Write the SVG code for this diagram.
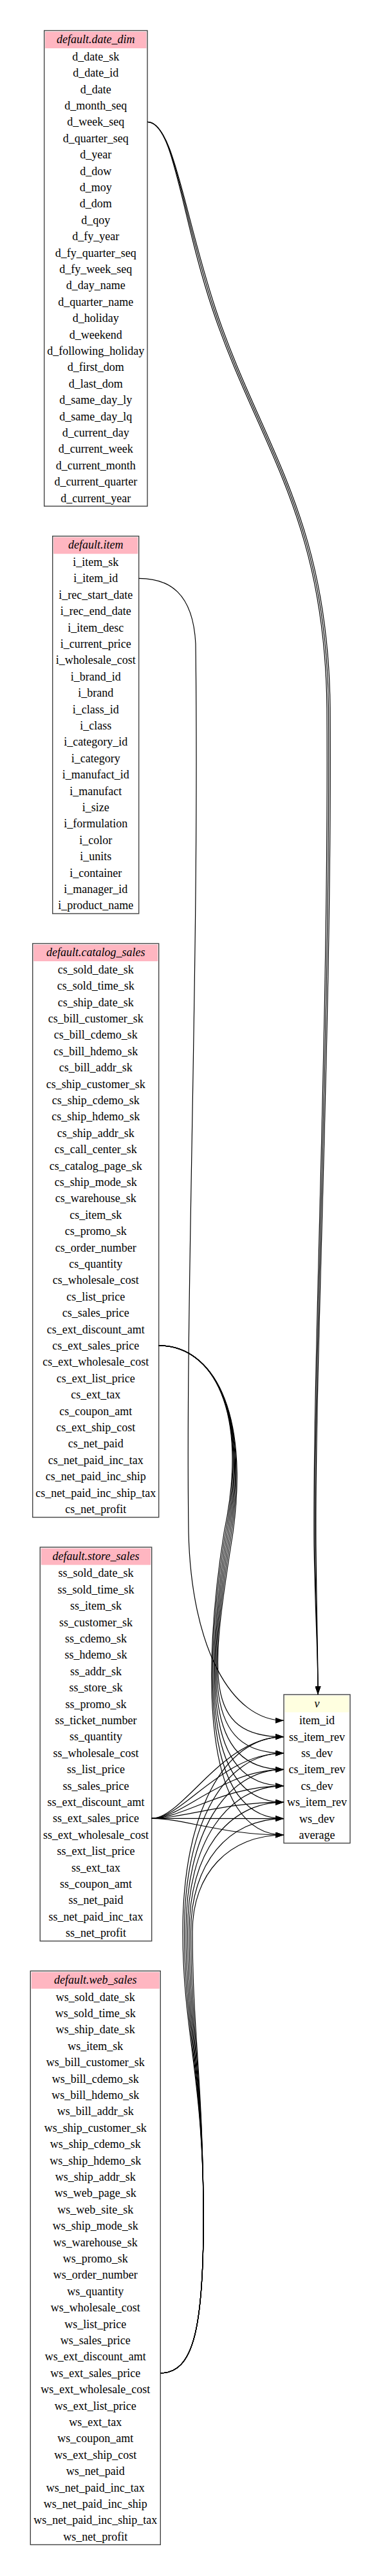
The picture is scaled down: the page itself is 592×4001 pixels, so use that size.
<svg xmlns="http://www.w3.org/2000/svg" width="592" height="4001" viewBox="0 0 592 4001">
<style>
.bg{fill:#ffffff}
.box{fill:#ffffff;stroke:#444444;stroke-width:1.4}
.hd{fill:#ffb6c1}
.hdv{fill:#ffffe0}
.t{font-family:"Liberation Serif","Times New Roman",serif;font-size:18px;text-anchor:middle;fill:#000000}
.h{font-style:italic}
.e{fill:none;stroke:#000000;stroke-width:1.2}
</style>
<defs>
<marker id="a" viewBox="0 0 13 9" refX="13" refY="4.5" markerWidth="13" markerHeight="9" markerUnits="userSpaceOnUse" orient="auto"><path d="M0,0L13,4.5L0,9z" fill="#000000"/></marker>
</defs>
<rect class="bg" x="0" y="0" width="592" height="4001"/>

<g id="date_dim">
<rect class="box" x="68.7" y="47.5" width="160.3" height="738.7"/>
<rect class="hd" x="70.2" y="49.2" width="157.3" height="25.8"/>
<text class="t h" x="148.85" y="67.3">default.date_dim</text>
<text class="t" x="148.85" y="93.7">d_date_sk</text>
<text class="t" x="148.85" y="119.1">d_date_id</text>
<text class="t" x="148.85" y="144.5">d_date</text>
<text class="t" x="148.85" y="169.9">d_month_seq</text>
<text class="t" x="148.85" y="195.3">d_week_seq</text>
<text class="t" x="148.85" y="220.7">d_quarter_seq</text>
<text class="t" x="148.85" y="246.1">d_year</text>
<text class="t" x="148.85" y="271.5">d_dow</text>
<text class="t" x="148.85" y="296.9">d_moy</text>
<text class="t" x="148.85" y="322.3">d_dom</text>
<text class="t" x="148.85" y="347.7">d_qoy</text>
<text class="t" x="148.85" y="373.1">d_fy_year</text>
<text class="t" x="148.85" y="398.5">d_fy_quarter_seq</text>
<text class="t" x="148.85" y="423.9">d_fy_week_seq</text>
<text class="t" x="148.85" y="449.3">d_day_name</text>
<text class="t" x="148.85" y="474.7">d_quarter_name</text>
<text class="t" x="148.85" y="500.1">d_holiday</text>
<text class="t" x="148.85" y="525.5">d_weekend</text>
<text class="t" x="148.85" y="550.9">d_following_holiday</text>
<text class="t" x="148.85" y="576.3">d_first_dom</text>
<text class="t" x="148.85" y="601.7">d_last_dom</text>
<text class="t" x="148.85" y="627.1">d_same_day_ly</text>
<text class="t" x="148.85" y="652.5">d_same_day_lq</text>
<text class="t" x="148.85" y="677.9">d_current_day</text>
<text class="t" x="148.85" y="703.3">d_current_week</text>
<text class="t" x="148.85" y="728.7">d_current_month</text>
<text class="t" x="148.85" y="754.1">d_current_quarter</text>
<text class="t" x="148.85" y="779.5">d_current_year</text>
</g>

<g id="item">
<rect class="box" x="81.7" y="832.7" width="134" height="586.3"/>
<rect class="hd" x="83.2" y="834.4" width="131" height="25.8"/>
<text class="t h" x="148.7" y="852.45">default.item</text>
<text class="t" x="148.7" y="878.9">i_item_sk</text>
<text class="t" x="148.7" y="904.3">i_item_id</text>
<text class="t" x="148.7" y="929.7">i_rec_start_date</text>
<text class="t" x="148.7" y="955.1">i_rec_end_date</text>
<text class="t" x="148.7" y="980.5">i_item_desc</text>
<text class="t" x="148.7" y="1005.9">i_current_price</text>
<text class="t" x="148.7" y="1031.3">i_wholesale_cost</text>
<text class="t" x="148.7" y="1056.7">i_brand_id</text>
<text class="t" x="148.7" y="1082.1">i_brand</text>
<text class="t" x="148.7" y="1107.5">i_class_id</text>
<text class="t" x="148.7" y="1132.9">i_class</text>
<text class="t" x="148.7" y="1158.3">i_category_id</text>
<text class="t" x="148.7" y="1183.7">i_category</text>
<text class="t" x="148.7" y="1209.1">i_manufact_id</text>
<text class="t" x="148.7" y="1234.5">i_manufact</text>
<text class="t" x="148.7" y="1259.9">i_size</text>
<text class="t" x="148.7" y="1285.3">i_formulation</text>
<text class="t" x="148.7" y="1310.7">i_color</text>
<text class="t" x="148.7" y="1336.1">i_units</text>
<text class="t" x="148.7" y="1361.5">i_container</text>
<text class="t" x="148.7" y="1386.9">i_manager_id</text>
<text class="t" x="148.7" y="1412.3">i_product_name</text>
</g>

<g id="catalog_sales">
<rect class="box" x="50.7" y="1465.5" width="196" height="891.1"/>
<rect class="hd" x="52.2" y="1467.2" width="193" height="25.8"/>
<text class="t h" x="148.7" y="1485.25">default.catalog_sales</text>
<text class="t" x="148.7" y="1511.7">cs_sold_date_sk</text>
<text class="t" x="148.7" y="1537.1">cs_sold_time_sk</text>
<text class="t" x="148.7" y="1562.5">cs_ship_date_sk</text>
<text class="t" x="148.7" y="1587.9">cs_bill_customer_sk</text>
<text class="t" x="148.7" y="1613.3">cs_bill_cdemo_sk</text>
<text class="t" x="148.7" y="1638.7">cs_bill_hdemo_sk</text>
<text class="t" x="148.7" y="1664.1">cs_bill_addr_sk</text>
<text class="t" x="148.7" y="1689.5">cs_ship_customer_sk</text>
<text class="t" x="148.7" y="1714.9">cs_ship_cdemo_sk</text>
<text class="t" x="148.7" y="1740.3">cs_ship_hdemo_sk</text>
<text class="t" x="148.7" y="1765.7">cs_ship_addr_sk</text>
<text class="t" x="148.7" y="1791.1">cs_call_center_sk</text>
<text class="t" x="148.7" y="1816.5">cs_catalog_page_sk</text>
<text class="t" x="148.7" y="1841.9">cs_ship_mode_sk</text>
<text class="t" x="148.7" y="1867.3">cs_warehouse_sk</text>
<text class="t" x="148.7" y="1892.7">cs_item_sk</text>
<text class="t" x="148.7" y="1918.1">cs_promo_sk</text>
<text class="t" x="148.7" y="1943.5">cs_order_number</text>
<text class="t" x="148.7" y="1968.9">cs_quantity</text>
<text class="t" x="148.7" y="1994.3">cs_wholesale_cost</text>
<text class="t" x="148.7" y="2019.7">cs_list_price</text>
<text class="t" x="148.7" y="2045.1">cs_sales_price</text>
<text class="t" x="148.7" y="2070.5">cs_ext_discount_amt</text>
<text class="t" x="148.7" y="2095.9">cs_ext_sales_price</text>
<text class="t" x="148.7" y="2121.3">cs_ext_wholesale_cost</text>
<text class="t" x="148.7" y="2146.7">cs_ext_list_price</text>
<text class="t" x="148.7" y="2172.1">cs_ext_tax</text>
<text class="t" x="148.7" y="2197.5">cs_coupon_amt</text>
<text class="t" x="148.7" y="2222.9">cs_ext_ship_cost</text>
<text class="t" x="148.7" y="2248.3">cs_net_paid</text>
<text class="t" x="148.7" y="2273.7">cs_net_paid_inc_tax</text>
<text class="t" x="148.7" y="2299.1">cs_net_paid_inc_ship</text>
<text class="t" x="148.7" y="2324.5">cs_net_paid_inc_ship_tax</text>
<text class="t" x="148.7" y="2349.9">cs_net_profit</text>
</g>

<g id="store_sales">
<rect class="box" x="62.3" y="2403.1" width="173.4" height="611.7"/>
<rect class="hd" x="63.8" y="2404.8" width="170.4" height="25.8"/>
<text class="t h" x="149" y="2422.85">default.store_sales</text>
<text class="t" x="149" y="2449.3">ss_sold_date_sk</text>
<text class="t" x="149" y="2474.7">ss_sold_time_sk</text>
<text class="t" x="149" y="2500.1">ss_item_sk</text>
<text class="t" x="149" y="2525.5">ss_customer_sk</text>
<text class="t" x="149" y="2550.9">ss_cdemo_sk</text>
<text class="t" x="149" y="2576.3">ss_hdemo_sk</text>
<text class="t" x="149" y="2601.7">ss_addr_sk</text>
<text class="t" x="149" y="2627.1">ss_store_sk</text>
<text class="t" x="149" y="2652.5">ss_promo_sk</text>
<text class="t" x="149" y="2677.9">ss_ticket_number</text>
<text class="t" x="149" y="2703.3">ss_quantity</text>
<text class="t" x="149" y="2728.7">ss_wholesale_cost</text>
<text class="t" x="149" y="2754.1">ss_list_price</text>
<text class="t" x="149" y="2779.5">ss_sales_price</text>
<text class="t" x="149" y="2804.9">ss_ext_discount_amt</text>
<text class="t" x="149" y="2830.3">ss_ext_sales_price</text>
<text class="t" x="149" y="2855.7">ss_ext_wholesale_cost</text>
<text class="t" x="149" y="2881.1">ss_ext_list_price</text>
<text class="t" x="149" y="2906.5">ss_ext_tax</text>
<text class="t" x="149" y="2931.9">ss_coupon_amt</text>
<text class="t" x="149" y="2957.3">ss_net_paid</text>
<text class="t" x="149" y="2982.7">ss_net_paid_inc_tax</text>
<text class="t" x="149" y="3008.1">ss_net_profit</text>
</g>

<g id="web_sales">
<rect class="box" x="47.3" y="3061.3" width="202" height="891.1"/>
<rect class="hd" x="48.8" y="3063" width="199" height="25.8"/>
<text class="t h" x="148.3" y="3081.05">default.web_sales</text>
<text class="t" x="148.3" y="3107.5">ws_sold_date_sk</text>
<text class="t" x="148.3" y="3132.9">ws_sold_time_sk</text>
<text class="t" x="148.3" y="3158.3">ws_ship_date_sk</text>
<text class="t" x="148.3" y="3183.7">ws_item_sk</text>
<text class="t" x="148.3" y="3209.1">ws_bill_customer_sk</text>
<text class="t" x="148.3" y="3234.5">ws_bill_cdemo_sk</text>
<text class="t" x="148.3" y="3259.9">ws_bill_hdemo_sk</text>
<text class="t" x="148.3" y="3285.3">ws_bill_addr_sk</text>
<text class="t" x="148.3" y="3310.7">ws_ship_customer_sk</text>
<text class="t" x="148.3" y="3336.1">ws_ship_cdemo_sk</text>
<text class="t" x="148.3" y="3361.5">ws_ship_hdemo_sk</text>
<text class="t" x="148.3" y="3386.9">ws_ship_addr_sk</text>
<text class="t" x="148.3" y="3412.3">ws_web_page_sk</text>
<text class="t" x="148.3" y="3437.7">ws_web_site_sk</text>
<text class="t" x="148.3" y="3463.1">ws_ship_mode_sk</text>
<text class="t" x="148.3" y="3488.5">ws_warehouse_sk</text>
<text class="t" x="148.3" y="3513.9">ws_promo_sk</text>
<text class="t" x="148.3" y="3539.3">ws_order_number</text>
<text class="t" x="148.3" y="3564.7">ws_quantity</text>
<text class="t" x="148.3" y="3590.1">ws_wholesale_cost</text>
<text class="t" x="148.3" y="3615.5">ws_list_price</text>
<text class="t" x="148.3" y="3640.9">ws_sales_price</text>
<text class="t" x="148.3" y="3666.3">ws_ext_discount_amt</text>
<text class="t" x="148.3" y="3691.7">ws_ext_sales_price</text>
<text class="t" x="148.3" y="3717.1">ws_ext_wholesale_cost</text>
<text class="t" x="148.3" y="3742.5">ws_ext_list_price</text>
<text class="t" x="148.3" y="3767.9">ws_ext_tax</text>
<text class="t" x="148.3" y="3793.3">ws_coupon_amt</text>
<text class="t" x="148.3" y="3818.7">ws_ext_ship_cost</text>
<text class="t" x="148.3" y="3844.1">ws_net_paid</text>
<text class="t" x="148.3" y="3869.5">ws_net_paid_inc_tax</text>
<text class="t" x="148.3" y="3894.9">ws_net_paid_inc_ship</text>
<text class="t" x="148.3" y="3920.3">ws_net_paid_inc_ship_tax</text>
<text class="t" x="148.3" y="3945.7">ws_net_profit</text>
</g>

<g id="v">
<rect class="box" x="441" y="2632" width="103" height="230.7"/>
<rect class="hdv" x="442.5" y="2633.7" width="100" height="25.8"/>
<text class="t h" x="492.5" y="2651.75">v</text>
<text class="t" x="492.5" y="2678.2">item_id</text>
<text class="t" x="492.5" y="2703.6">ss_item_rev</text>
<text class="t" x="492.5" y="2729">ss_dev</text>
<text class="t" x="492.5" y="2754.4">cs_item_rev</text>
<text class="t" x="492.5" y="2779.8">cs_dev</text>
<text class="t" x="492.5" y="2805.2">ws_item_rev</text>
<text class="t" x="492.5" y="2830.6">ws_dev</text>
<text class="t" x="492.5" y="2856">average</text>
</g>

<g id="connectors">
<path class="e" marker-end="url(#a)" d="M229,189.3C270,189.3 280,330 330,480C400,690 505,800 508,1100C511,1600 486,2100 488,2400C490,2520 494,2560 494,2632"/>
<path class="e" marker-end="url(#a)" d="M229,189.3C270,189.3 282.5,330 332.5,480C402.5,690 507.5,800 510.5,1100C513.5,1600 487.5,2100 489.5,2400C491,2520 494,2560 494,2632"/>
<path class="e" marker-end="url(#a)" d="M229,189.3C270,189.3 285,330 335,480C405,690 510,800 513,1100C516,1600 489,2100 491,2400C492,2520 494,2560 494,2632"/>
<path class="e" marker-end="url(#a)" d="M215.7,898.3C262,898.3 300,920 304,1000C310,1500 288,2000 293,2380C297,2560 360,2672.2 441,2672.2"/>

<path class="e" marker-end="url(#a)" d="M246.7,2089.9C330,2089.9 388,2190 362,2380C327,2600 315,2697.6 441,2697.6"/>
<path class="e" marker-end="url(#a)" d="M246.7,2089.9C330,2089.9 388,2190 359.7,2380C324.7,2600 315,2723 441,2723"/>
<path class="e" marker-end="url(#a)" d="M246.7,2089.9C330,2089.9 388,2190 357.4,2380C322.4,2600 315,2748.4 441,2748.4"/>
<path class="e" marker-end="url(#a)" d="M246.7,2089.9C330,2089.9 388,2190 355.1,2380C320.1,2600 315,2773.8 441,2773.8"/>
<path class="e" marker-end="url(#a)" d="M246.7,2089.9C330,2089.9 388,2190 352.8,2380C317.8,2600 315,2799.2 441,2799.2"/>
<path class="e" marker-end="url(#a)" d="M246.7,2089.9C330,2089.9 388,2190 350.5,2380C315.5,2600 315,2824.6 441,2824.6"/>
<path class="e" marker-end="url(#a)" d="M246.7,2089.9C330,2089.9 388,2190 348.2,2380C313.2,2600 315,2850 441,2850"/>

<path class="e" marker-end="url(#a)" d="M235.7,2824.3C285,2824.3 345,2697.6 441,2697.6"/>
<path class="e" marker-end="url(#a)" d="M235.7,2824.3C285,2824.3 345,2723 441,2723"/>
<path class="e" marker-end="url(#a)" d="M235.7,2824.3C285,2824.3 345,2748.4 441,2748.4"/>
<path class="e" marker-end="url(#a)" d="M235.7,2824.3C285,2824.3 345,2773.8 441,2773.8"/>
<path class="e" marker-end="url(#a)" d="M235.7,2824.3C285,2824.3 345,2799.2 441,2799.2"/>
<path class="e" marker-end="url(#a)" d="M235.7,2824.3C285,2824.3 345,2824.6 441,2824.6"/>
<path class="e" marker-end="url(#a)" d="M235.7,2824.3C285,2824.3 345,2850 441,2850"/>

<path class="e" marker-end="url(#a)" d="M249.3,3685.7C300,3685.7 318,3620 316,3420C314,3220 284,3150 284,3000C284,2818.6 346.8,2697.6 441,2697.6"/>
<path class="e" marker-end="url(#a)" d="M249.3,3685.7C300,3685.7 318,3620 316,3420C314,3220 286.5,3150 286.5,3000C286.5,2833.8 348.3,2723 441,2723"/>
<path class="e" marker-end="url(#a)" d="M249.3,3685.7C300,3685.7 318,3620 316,3420C314,3220 289,3150 289,3000C289,2849 349.8,2748.4 441,2748.4"/>
<path class="e" marker-end="url(#a)" d="M249.3,3685.7C300,3685.7 318,3620 316,3420C314,3220 291.5,3150 291.5,3000C291.5,2864.3 351.3,2773.8 441,2773.8"/>
<path class="e" marker-end="url(#a)" d="M249.3,3685.7C300,3685.7 318,3620 316,3420C314,3220 294,3150 294,3000C294,2879.5 352.8,2799.2 441,2799.2"/>
<path class="e" marker-end="url(#a)" d="M249.3,3685.7C300,3685.7 318,3620 316,3420C314,3220 296.5,3150 296.5,3000C296.5,2894.8 354.3,2824.6 441,2824.6"/>
<path class="e" marker-end="url(#a)" d="M249.3,3685.7C300,3685.7 318,3620 316,3420C314,3220 299,3150 299,3000C299,2910 355.8,2850 441,2850"/>
</g>
</svg>
